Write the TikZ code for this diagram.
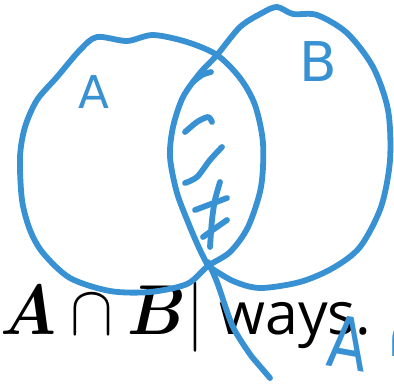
\documentclass[tikz,border=0pt]{standalone}
\usepackage{amsmath}
\usepackage{fontspec}
\setsansfont{Open Sans}
\newfontfamily\penfont{DejaVu Sans}
\usetikzlibrary{positioning}
\definecolor{penblue}{RGB}{56,145,210}

\begin{document}
\begin{tikzpicture}[
  x=0.5pt, y=-0.5pt,
  inkline/.style={draw=penblue, line width=2.9pt, line cap=round, line join=round},
  inklabel/.style={text=penblue, inner sep=0pt},
  printed/.style={anchor=base west, inner sep=0pt, text=black}
]
  \useasboundingbox (0,0) rectangle (394,390);
  \clip (0,0) rectangle (394,390);

  % printed line under the ink
  \node[printed, font=\fontsize{24}{28}\selectfont, scale=1.42, xscale=0.91, transform shape] (formula) at (0,334) {$\boldsymbol{A}\cap\boldsymbol{B}|$};
  \node[printed, font=\sffamily\fontsize{29.5}{34}\selectfont] (waystext) at (219,334) {ways.};

  % set A
  \draw[inkline] plot[smooth cycle] coordinates {
    (217,55) (240,78) (255,105) (263,143) (261,187) (248,227) (230,252)
    (208,266) (187,284) (150,292) (110,291) (70,278) (43,253) (30,230)
    (22,200) (20,157) (25,127) (37,100) (57,77) (80,50) (97,37) (127,41)
    (153,35) (187,42)};

  % set B (corner at the bottom of the lens)
  \draw[inkline] plot[smooth] coordinates {
    (208,266) (233,281) (260,288) (300,282) (333,268) (360,247) (381,207)
    (390,160) (388,110) (373,67) (347,33) (317,15) (293,14) (277,7)
    (262,13) (240,27) (217,55) (200,73) (183,97) (173,127) (170,157)
    (177,193) (190,227) (200,250) (208,266)};

  % tail
  \coordinate (tailend) at (270,378);
  \draw[inkline] plot[smooth] coordinates {(208,262) (217,282) (233,327) (252,357)} -- (tailend);

  % hatching of the intersection
  \draw[inkline] plot[smooth] coordinates {(193,82) (202,75) (211,72)};
  \draw[inkline] plot[smooth] coordinates {(185,132) (197,122) (208,117) (212,122)};
  \draw[inkline] plot[smooth] coordinates {(185,183) (197,177) (210,160) (222,147)};
  \draw[inkline] plot[smooth] coordinates {(220,182) (215,200) (212,220) (210,247)};
  \draw[inkline] (195,210) -- (227,198);
  \draw[inkline] plot[smooth] coordinates {(203,237) (217,227) (227,220)};

  % hand-written letters
  \node[inklabel, font=\penfont\fontsize{22.6}{24}\selectfont] (labelA) at (94,92) {A};
  \node[inklabel, font=\penfont\fontsize{27.4}{30}\selectfont] (labelB) at (318,62) {B};
  \node[inklabel, font=\penfont\fontsize{36}{40}\selectfont, xscale=0.8, rotate=-8] (noteA) at (348,343) {A};
  \node[inklabel, font=\penfont\fontsize{28}{30}\selectfont, anchor=west] (noteCap) at (385,340) {∩};
\end{tikzpicture}
\end{document}
